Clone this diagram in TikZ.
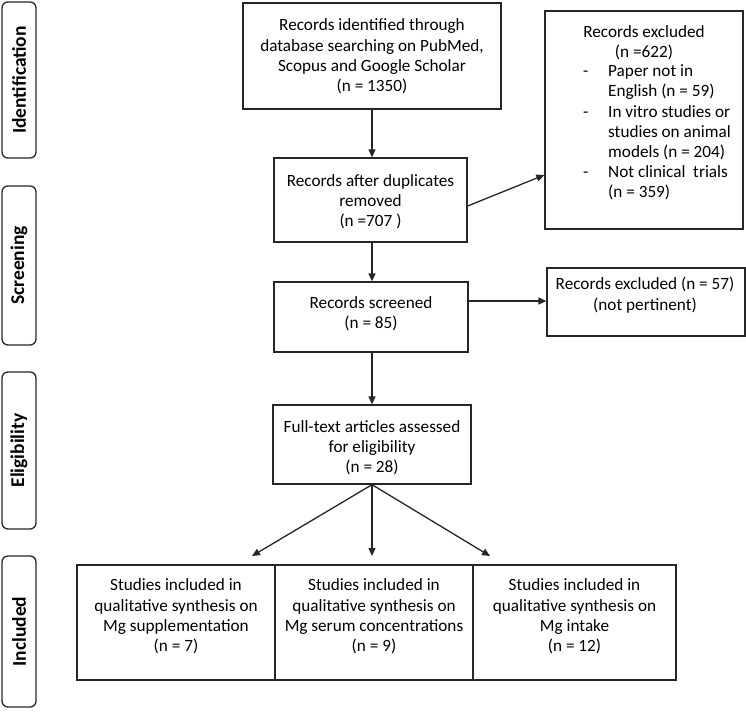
\documentclass[tikz,border=0pt]{standalone}
\usepackage{fontspec}
\setmainfont{Carlito}
\usetikzlibrary{arrows.meta,calc}
\begin{document}
\begin{tikzpicture}[x=1pt,y=-1pt,
  box/.style={draw=black!85, line width=1.3pt, inner sep=0pt},
  txt/.style={align=center, font=\fontsize{17.2}{20.2}\selectfont, inner sep=0pt},
  side/.style={draw=black!85, line width=1.3pt, rounded corners=6pt, inner sep=0pt, minimum height=34pt, rotate=90, font=\fontsize{19.5}{22}\selectfont\bfseries},
  arr/.style={-{Triangle[length=8pt,width=7pt]}, line width=1.3pt, draw=black!85}]
\useasboundingbox (0,0) rectangle (746,716);
% side labels
\node[side, minimum width=156pt] (sid) at (19,80) {Identification};
\node[side, minimum width=159pt] (ssc) at (19,265.5) {Screening};
\node[side, minimum width=157pt] (sel) at (19,450.5) {Eligibility};
\node[side, minimum width=151pt] (sin) at (19,631.5) {Included};
% main boxes
\node[box, minimum width=258pt, minimum height=106pt] (b1) at (372,56) {};
\node[txt] (t1) at (372,56.5) {Records identified through\\database searching on PubMed,\\Scopus and Google Scholar\\(n = 1350)};
\node[box, minimum width=193pt, minimum height=84pt] (b2) at (370.5,200) {};
\node[txt] (t2) at (370.5,202) {Records after duplicates\\removed\\(n =707 )};
\node[box, minimum width=194pt, minimum height=70pt] (b3) at (371,317) {};
\node[txt] (t3) at (371,314) {Records screened\\(n = 85)};
\node[box, minimum width=198pt, minimum height=79pt] (b4) at (372,444.5) {};
\node[txt] (t4) at (372,447.5) {Full-text articles assessed\\for eligibility\\(n = 28)};
% excluded boxes
\node[box, minimum width=198pt, minimum height=218pt] (ex1) at (644,120) {};
\node[txt] (e1h) at (644,43) {Records excluded\\(n =622)};
\node[txt, align=left, anchor=west] (e1l) at (583,132.5) {\makebox[25pt][l]{-}Paper not in\\\hspace*{25pt}English (n = 59)\\\makebox[25pt][l]{-}In vitro studies or\\\hspace*{25pt}studies on animal\\\hspace*{25pt}models (n = 204)\\\makebox[25pt][l]{-}Not clinical\ \ trials\\\hspace*{25pt}(n = 359)};
\node[box, minimum width=198pt, minimum height=68pt] (ex2) at (646,302) {};
\node[txt] (e2t) at (645,295) {Records excluded (n = 57)\\(not pertinent)};
% included boxes
\node[box, minimum width=198pt, minimum height=115pt] (c1) at (176,622.5) {};
\node[box, minimum width=198pt, minimum height=115pt] (c2) at (374,622.5) {};
\node[box, minimum width=203pt, minimum height=115pt] (c3) at (574.5,622.5) {};
\node[txt] (ct1) at (176,616.5) {Studies included in\\qualitative synthesis on\\Mg supplementation\\(n = 7)};
\node[txt] (ct2) at (374,616.5) {Studies included in\\qualitative synthesis on\\Mg serum concentrations\\(n = 9)};
\node[txt] (ct3) at (574.5,616.5) {Studies included in\\qualitative synthesis on\\Mg intake\\(n = 12)};
% connectors
\draw[arr] (b1.south) -- (b1.south |- b2.north);
\draw[arr] ($(b2.east)+(0,6)$) -- ($(ex1.west)+(0,55)$);
\draw[arr] (b2.south -| 372,0) -- (b3.north -| 372,0);
\coordinate (s1) at ($(b3.east)+(0,-16)$);
\draw[arr] (s1) -- (s1 -| ex2.west);
\draw[arr] (b3.south -| 372,0) -- (b4.north -| 372,0);
\coordinate (p1) at (252,556);
\coordinate (p2) at (372,556);
\coordinate (p3) at (490,556);
\draw[arr] (b4.south) -- (p1);
\draw[arr] (b4.south) -- (p2);
\draw[arr] (b4.south) -- (p3);
\end{tikzpicture}
\end{document}
